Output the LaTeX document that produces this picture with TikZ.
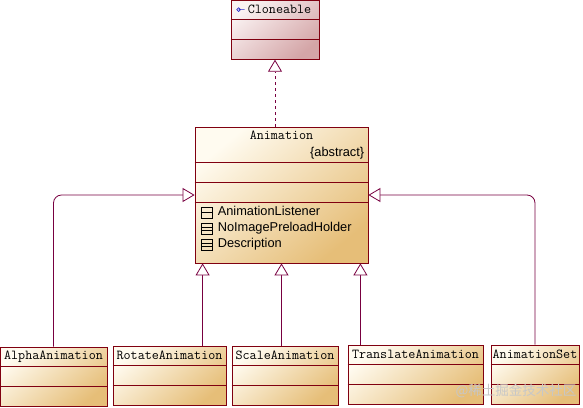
\documentclass[tikz,border=0pt]{standalone}
\usepackage{fontspec}
\setsansfont{Liberation Sans}
\newfontfamily\cjkfont{Noto Sans CJK SC}
\usetikzlibrary{arrows.meta}

\definecolor{umlborder}{RGB}{128,0,16}
\definecolor{umlline}{RGB}{120,0,64}
\definecolor{classlight}{RGB}{255,251,240}
\definecolor{classdark}{RGB}{230,190,120}
\definecolor{ifacelight}{RGB}{250,242,242}
\definecolor{ifacedark}{RGB}{212,165,167}
\definecolor{iconblue}{RGB}{40,40,200}

\begin{document}
\begin{tikzpicture}[x=1pt, y=-1pt,
  classbox/.style={draw=umlborder, line width=0.8pt, inner sep=0pt,
    top color=classlight, bottom color=classdark, shading angle=40},
  ifacebox/.style={classbox, top color=ifacelight, bottom color=ifacedark, shading angle=40},
  cname/.style={font=\ttfamily\fontsize{13.7}{15}\selectfont, inner sep=0pt},
  attr/.style={font=\sffamily\fontsize{12.8}{14}\selectfont, inner sep=0pt,
    text height=9pt, text depth=2.5pt, anchor=west},
  nested/.style={draw, line width=0.6pt, minimum size=11pt, inner sep=0pt, anchor=east,
    path picture={\draw (path picture bounding box.west) -- (path picture bounding box.east);}},
  nestedmore/.style={draw, line width=0.6pt, minimum size=11pt, inner sep=0pt, anchor=east,
    path picture={\draw ([yshift=1.8pt]path picture bounding box.west) -- ([yshift=1.8pt]path picture bounding box.east);
      \draw ([yshift=-1.8pt]path picture bounding box.west) -- ([yshift=-1.8pt]path picture bounding box.east);}},
  gen/.style={draw=umlline, line width=0.8pt, -{Triangle[open, length=12pt, width=14pt, fill=white]}},
  divider/.style={draw=umlborder, line width=0.8pt}]
  \useasboundingbox (0,0) rectangle (583,407);

  % interface
  \node[ifacebox, minimum width=88pt, minimum height=59pt] (clone) at (275,29.8) {};
  \draw[divider] ([yshift=-19.5]clone.north west) -- ([yshift=-19.5]clone.north east);
  \draw[divider] ([yshift=-39.5]clone.north west) -- ([yshift=-39.5]clone.north east);
  \node[cname, anchor=west] (clonename) at ([xshift=17, yshift=-9.7]clone.north west) {Cloneable};
  \draw[iconblue, line width=0.7pt] ([xshift=-9]clonename.west) circle (1.8) -- ([xshift=-3]clonename.west);

  % abstract class
  \node[classbox, minimum width=173pt, minimum height=136pt] (anim) at (281.5,195) {};
  \foreach \d in {36,56,76}
    \draw[divider] ([yshift=-\d]anim.north west) -- ([yshift=-\d]anim.north east);
  \node[cname] (animname) at ([yshift=-9]anim.north) {Animation};
  \node[attr, anchor=east] (abstr) at ([xshift=-4, yshift=-27]anim.north east) {\{abstract\}};
  \node[attr] (a1) at ([xshift=23, yshift=-86]anim.north west) {AnimationListener};
  \node[attr] (a2) at ([xshift=23, yshift=-102]anim.north west) {NoImagePreloadHolder};
  \node[attr] (a3) at ([xshift=23, yshift=-118]anim.north west) {Description};
  \node[nested] (i1) at ([xshift=-5]a1.west) {};
  \node[nestedmore] (i2) at ([xshift=-5]a2.west) {};
  \node[nestedmore] (i3) at ([xshift=-5]a3.west) {};

  % subclasses
  \node[classbox, minimum width=107pt, minimum height=59pt] (alpha) at (53.5,376.5) {};
  \node[classbox, minimum width=113pt, minimum height=59pt] (rotate) at (169.5,375.5) {};
  \node[classbox, minimum width=106pt, minimum height=59pt] (scale) at (285,375.5) {};
  \node[classbox, minimum width=135pt, minimum height=59pt] (translate) at (415.5,374.5) {};
  \node[classbox, minimum width=88pt, minimum height=59pt] (aset) at (535,374.5) {};
  \foreach \c in {alpha,rotate,scale,translate,aset} {
    \draw[divider] ([yshift=-19.5]\c.north west) -- ([yshift=-19.5]\c.north east);
    \draw[divider] ([yshift=-40]\c.north west) -- ([yshift=-40]\c.north east);
  }
  \node[cname] (alphaname) at ([yshift=-9.7]alpha.north) {AlphaAnimation};
  \node[cname] (rotatename) at ([yshift=-9.7]rotate.north) {RotateAnimation};
  \node[cname] (scalename) at ([yshift=-9.7]scale.north) {ScaleAnimation};
  \node[cname] (translatename) at ([yshift=-9.7]translate.north) {TranslateAnimation};
  \node[cname] (asetname) at ([yshift=-9.7]aset.north) {AnimationSet};

  % relations
  \draw[gen, dash pattern=on 3pt off 3pt] (clone.south |- anim.north) -- (clone.south);
  \draw[gen, rounded corners=8] (alpha.north) |- (anim.west);
  \draw[gen, rounded corners=8] (aset.north) |- (anim.east);
  \coordinate (r) at ([xshift=8]anim.south west);
  \coordinate (t) at ([xshift=-8]anim.south east);
  \draw[gen] (r |- rotate.north) -- (r);
  \draw[gen] (anim.south |- scale.north) -- (anim.south);
  \draw[gen] (t |- translate.north) -- (t);

  \node[font=\cjkfont\fontsize{13.5}{15}\selectfont, text=black!22, anchor=east] (mark) at (580,391) {@稀土掘金技术社区};
\end{tikzpicture}
\end{document}
